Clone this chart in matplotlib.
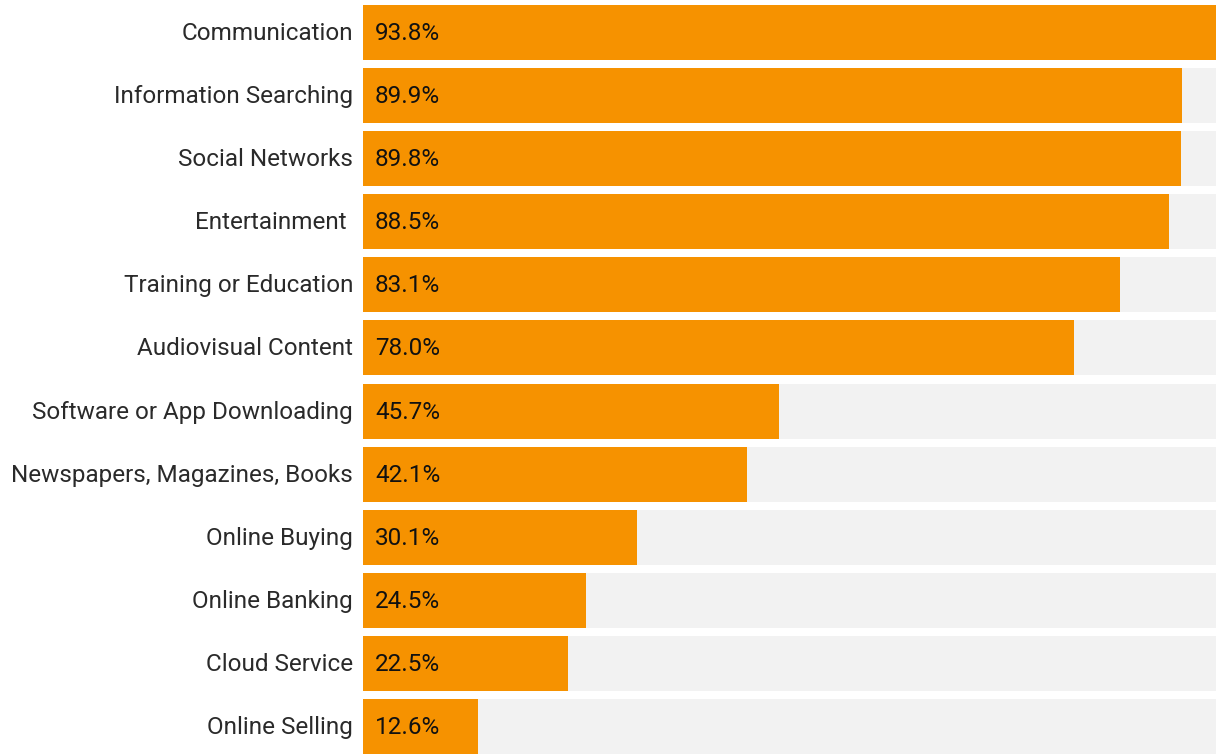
import matplotlib
matplotlib.use("Agg")
import matplotlib.pyplot as plt

categories = [
    "Communication",
    "Information Searching",
    "Social Networks",
    "Entertainment ",
    "Training or Education",
    "Audiovisual Content",
    "Software or App Downloading",
    "Newspapers, Magazines, Books",
    "Online Buying",
    "Online Banking",
    "Cloud Service",
    "Online Selling",
]
values = [93.8, 89.9, 89.8, 88.5, 83.1, 78.0, 45.7, 42.1, 30.1, 24.5, 22.5, 12.6]

BAR_COLOR = "#F69200"
TRACK_COLOR = "#F2F2F2"
TEXT_COLOR = "#2a2a2a"

plt.rcParams["font.family"] = ["Roboto", "DejaVu Sans"]

W, H, DPI = 1216, 754, 100
fig = plt.figure(figsize=(W / DPI, H / DPI), dpi=DPI)
left_px = 363
ax = fig.add_axes([left_px / W, 0, 1 - left_px / W, 1])

px_per_unit = 9.11
pitch = 63.09
n = len(categories)
ypos = list(range(n))
bar_h = 55 / pitch

ax.barh(ypos, [100] * n, height=bar_h, color=TRACK_COLOR, linewidth=0)
ax.barh(ypos, values, height=bar_h, color=BAR_COLOR, linewidth=0)

ax.set_xlim(0, (W - left_px) / px_per_unit)
ax.set_ylim(n - 1 + 27.5 / pitch, -32.5 / pitch)

for y, v, name in zip(ypos, values, categories):
    ax.annotate(f"{v:.1f}%", xy=(0, y), xytext=(12, -1), textcoords="offset pixels",
                va="center", ha="left", fontsize=17.5, color="#111111")
    ax.annotate(name, xy=(0, y), xytext=(-10, -1), textcoords="offset pixels",
                va="center", ha="right", fontsize=17.5, color=TEXT_COLOR,
                annotation_clip=False)

ax.axis("off")
fig.savefig("out.png", dpi=DPI)
